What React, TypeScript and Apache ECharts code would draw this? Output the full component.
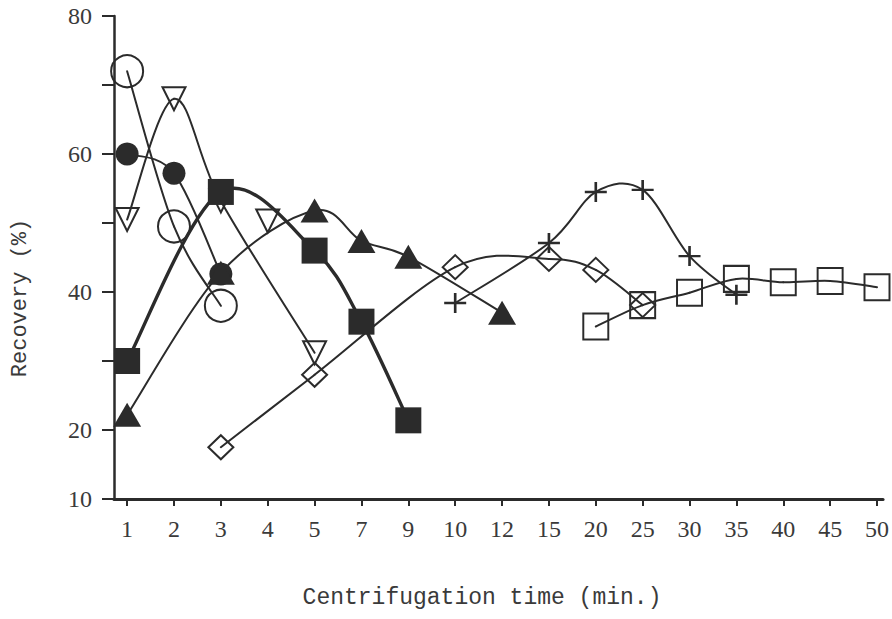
import React, { useEffect, useRef } from "react";
import * as echarts from "echarts";

// Centrifugation times, drawn at equal spacing along the x axis
const times = ["1", "2", "3", "4", "5", "7", "9", "10", "12", "15", "20", "25", "30", "35", "40", "45", "50"];

// Recovery (%) per run, as [time (min.), recovery]
const openCircle: [number, number][] = [[1, 72], [2, 49.5], [3, 38]];
const filledCircle: [number, number][] = [[1, 60], [2, 57.2], [3, 42.6]];
const openDownTriangle: [number, number][] = [[1, 50.5], [2, 68], [3, 53.2], [4, 50.3], [5, 31.2]];
const filledSquare: [number, number][] = [[1, 30], [3, 54.5], [5, 46], [7, 35.7], [9, 21.4]];
const filledTriangle: [number, number][] = [[1, 22.2], [3, 42.8], [5, 51.8], [7, 47.4], [9, 45.1], [12, 37]];
const openDiamond: [number, number][] = [[3, 17.5], [5, 28], [10, 43.6], [15, 44.8], [20, 43.2], [25, 38.1]];
const plusMark: [number, number][] = [[10, 38.4], [15, 47.1], [20, 54.5], [25, 54.8], [30, 45.2], [35, 39.6]];
const openSquare: [number, number][] = [[20, 35], [25, 38.1], [30, 39.9], [35, 41.9], [40, 41.4], [45, 41.6], [50, 40.7]];

// Points left off a run's fitted curve (plotted as markers only)
const openDownTriangleOffCurve = [4];

// Y ticks every 10, only some of them labelled
const yLabels = [10, 20, 40, 60, 80];

const INK = "#2b2b2b";
const TEXT = "#3a3a3a";
const MONO = "'Liberation Mono', 'DejaVu Sans Mono', monospace";
const SERIF = "'Liberation Serif', 'DejaVu Serif', serif";
const PLUS = "path://M4.4,0h1.2v4.4h4.4v1.2h-4.4v4.4h-1.2v-4.4h-4.4v-1.2h4.4z";

const toIndex = (pts: [number, number][]) =>
  pts.map(([t, v]) => [times.indexOf(String(t)), v]);

type Spec = {
  name: string;
  data: [number, number][];
  symbol: string;
  size: number | number[];
  filled: boolean;
  rotate?: number;
  width?: number;
  offCurve?: number[];
};

const specs: Spec[] = [
  { name: "openCircle", data: openCircle, symbol: "circle", size: 32, filled: false },
  { name: "filledCircle", data: filledCircle, symbol: "circle", size: 23, filled: true },
  { name: "openDownTriangle", data: openDownTriangle, symbol: "triangle", size: [23, 23], filled: false, rotate: 180, offCurve: openDownTriangleOffCurve },
  { name: "filledSquare", data: filledSquare, symbol: "rect", size: 26, filled: true, width: 3.4 },
  { name: "filledTriangle", data: filledTriangle, symbol: "triangle", size: [28, 24], filled: true },
  { name: "openDiamond", data: openDiamond, symbol: "diamond", size: [25, 24], filled: false },
  { name: "plusMark", data: plusMark, symbol: PLUS, size: [22, 20], filled: true },
  { name: "openSquare", data: openSquare, symbol: "rect", size: [25, 26], filled: false },
];

// Catmull-Rom curve through the points: each data item draws the
// cubic segment from itself to the next point, in pixel space.
function curveSeries(s: Spec) {
  const skip = s.offCurve ?? [];
  const pts = toIndex(s.data.filter(([t]) => !skip.includes(t)));
  return {
    type: "custom",
    name: s.name + "-curve",
    data: pts,
    clip: false,
    silent: true,
    z: 2,
    renderItem: (params: any, api: any) => {
      const i = params.dataIndex;
      if (i >= pts.length - 1) return { type: "group", children: [] };
      const P = pts.map((p) => api.coord(p));
      const p0 = P[Math.max(i - 1, 0)];
      const p1 = P[i];
      const p2 = P[i + 1];
      const p3 = P[Math.min(i + 2, P.length - 1)];
      const k = 1 / 6;
      return {
        type: "bezierCurve",
        shape: {
          x1: p1[0],
          y1: p1[1],
          cpx1: p1[0] + (p2[0] - p0[0]) * k,
          cpy1: p1[1] + (p2[1] - p0[1]) * k,
          cpx2: p2[0] - (p3[0] - p1[0]) * k,
          cpy2: p2[1] - (p3[1] - p1[1]) * k,
          x2: p2[0],
          y2: p2[1],
        },
        style: { fill: null, stroke: INK, lineWidth: s.width ?? 2, lineCap: "round" },
      };
    },
  };
}

function markerSeries(s: Spec) {
  return {
    type: "scatter",
    name: s.name,
    data: toIndex(s.data),
    symbol: s.symbol,
    symbolSize: s.size,
    symbolRotate: s.rotate ?? 0,
    itemStyle: s.filled
      ? { color: INK, borderColor: INK, borderWidth: 0, opacity: 1 }
      : { color: "rgba(255,255,255,0)", borderColor: INK, borderWidth: 2, opacity: 1 },
    emphasis: { disabled: true },
    z: 3,
  };
}

export default function App() {
  const ref = useRef<HTMLDivElement>(null);

  useEffect(() => {
    if (!ref.current) return;
    const chart = echarts.init(ref.current, null, { renderer: "svg" });

    chart.setOption({
      animation: false,
      backgroundColor: "#ffffff",
      grid: { left: 114, right: 7, top: 16, bottom: 120, containLabel: false },
      xAxis: {
        type: "value",
        min: -0.28,
        max: 16.13,
        splitLine: { show: false },
        axisLine: { show: true, onZero: false, lineStyle: { color: INK, width: 3 } },
        axisTick: {
          show: true,
          length: 7,
          lineStyle: { color: INK, width: 2 },
          customValues: times.map((_, i) => i),
        },
        axisLabel: {
          customValues: times.map((_, i) => i),
          formatter: (v: number) => times[Math.round(v)] ?? "",
          color: TEXT,
          fontFamily: SERIF,
          fontSize: 24,
          margin: 18,
        },
      },
      yAxis: {
        type: "value",
        min: 10,
        max: 80,
        interval: 10,
        splitLine: { show: false },
        axisLine: { show: true, onZero: false, lineStyle: { color: INK, width: 2.5 } },
        axisTick: { show: true, length: 12, lineStyle: { color: INK, width: 2 } },
        axisLabel: {
          formatter: (v: number) => (yLabels.includes(v) ? String(v) : ""),
          color: TEXT,
          fontFamily: SERIF,
          fontSize: 24,
          margin: 22,
        },
      },
      graphic: [
        {
          type: "text",
          x: 20,
          y: 298,
          rotation: Math.PI / 2,
          style: {
            text: "Recovery (%)",
            fill: TEXT,
            font: `22px ${MONO}`,
            align: "center",
            verticalAlign: "middle",
          },
        },
        {
          type: "text",
          x: 482,
          y: 598,
          style: {
            text: "Centrifugation time (min.)",
            fill: TEXT,
            font: `23px ${MONO}`,
            align: "center",
            verticalAlign: "middle",
          },
        },
      ],
      series: [...specs.map(curveSeries), ...specs.map(markerSeries)],
    });

    return () => chart.dispose();
  }, []);

  return (
    <div
      ref={ref}
      style={{ position: "fixed", left: 0, top: 0, width: 892, height: 619, background: "#fff" }}
    />
  );
}
